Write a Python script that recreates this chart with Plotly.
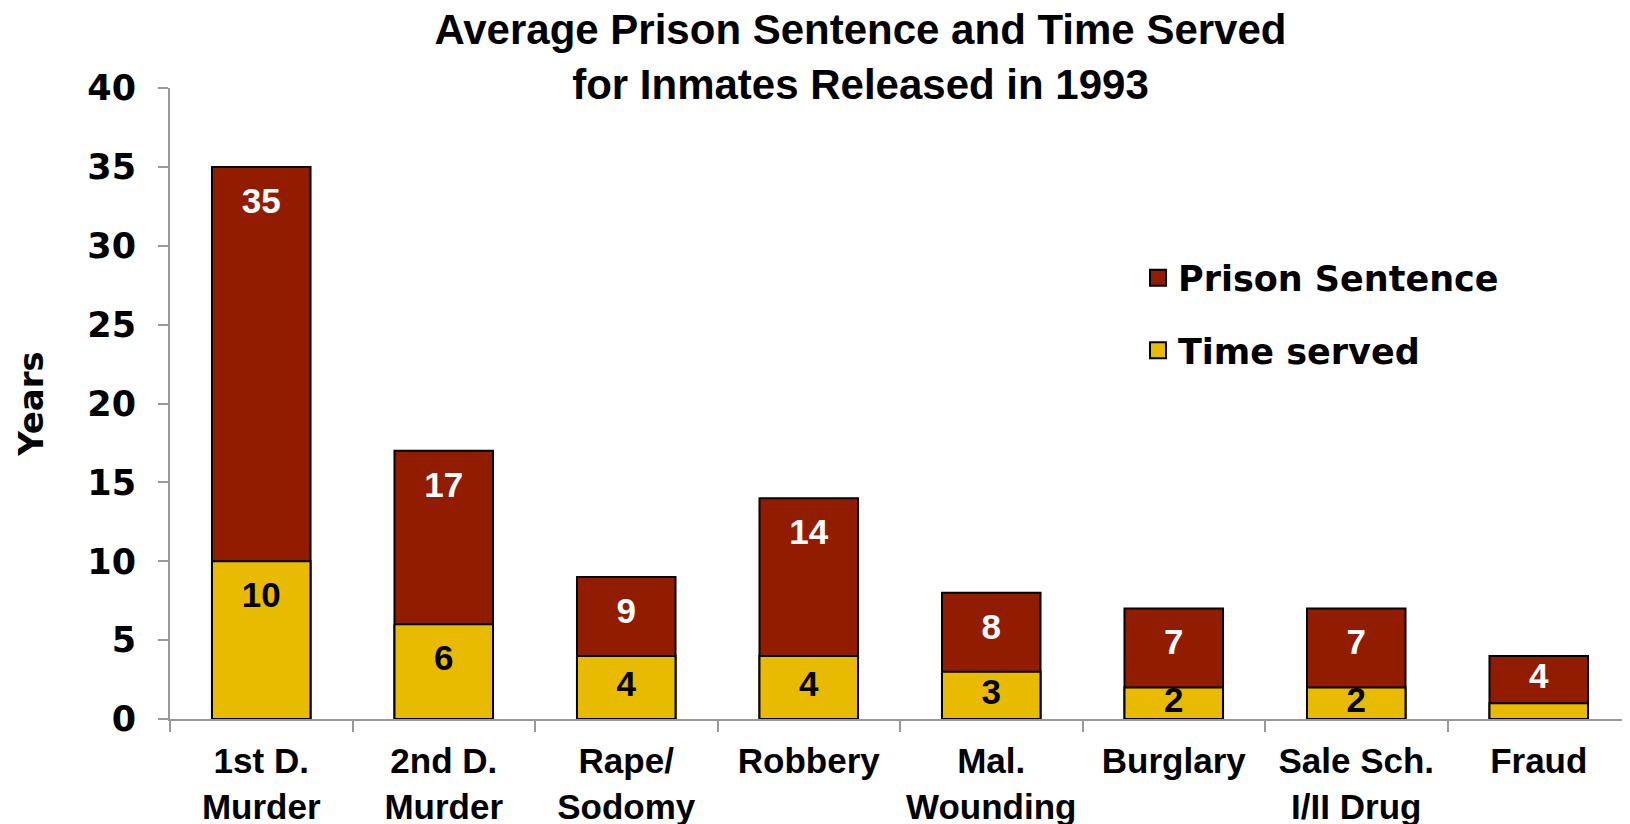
import plotly.graph_objects as go

categories = ["1st D.<br>Murder", "2nd D.<br>Murder", "Rape/<br>Sodomy", "Robbery",
              "Mal.<br>Wounding", "Burglary", "Sale Sch.<br>I/II Drug", "Fraud"]
prison_sentence = [35, 17, 9, 14, 8, 7, 7, 4]
time_served = [10, 6, 4, 4, 3, 2, 2, 1]
y_ticks = [0, 5, 10, 15, 20, 25, 30, 35, 40]

RED = "#921C00"
YELLOW = "#E8BA00"
FONT = "Liberation Sans, Arial, sans-serif"
WIDE = "DejaVu Sans, Verdana, sans-serif"

# label placement: near the top of each visible segment, centred when the segment is short
LABEL_DROP = 2.35  # in axis units


def label_y(top, base):
    return max(top - LABEL_DROP, (top + base) / 2)


sent_label_y = [label_y(s, t) for s, t in zip(prison_sentence, time_served)]
time_label_y = [label_y(t, 0) for t in time_served]
time_text = [str(v) if v >= 2 else "" for v in time_served]

fig = go.Figure()
fig.add_trace(go.Bar(
    x=categories, y=prison_sentence, name="Prison Sentence",
    marker=dict(color=RED, line=dict(color="black", width=2)),
    width=0.54, showlegend=False, hoverinfo="y",
))
fig.add_trace(go.Bar(
    x=categories, y=time_served, name="Time served",
    marker=dict(color=YELLOW, line=dict(color="black", width=2)),
    width=0.54, showlegend=False, hoverinfo="y",
))
fig.add_trace(go.Scatter(
    x=categories, y=sent_label_y, mode="text", text=[str(v) for v in prison_sentence],
    textposition="middle center", showlegend=False, hoverinfo="skip",
    textfont=dict(color="white", size=35, family=FONT, weight="bold"),
))
fig.add_trace(go.Scatter(
    x=categories, y=time_label_y, mode="text", text=time_text,
    textposition="middle center", showlegend=False, hoverinfo="skip",
    textfont=dict(color="black", size=35, family=FONT, weight="bold"),
))
# legend entries
fig.add_trace(go.Scatter(
    x=[None], y=[None], mode="markers", name="Prison Sentence", legendgroup="a",
    marker=dict(symbol="square", size=16, color=RED, line=dict(color="black", width=2)),
))
fig.add_trace(go.Scatter(
    x=[None], y=[None], mode="markers", name="Time served", legendgroup="b",
    marker=dict(symbol="square", size=16, color=YELLOW, line=dict(color="black", width=2)),
))

fig.update_layout(
    width=1630, height=824,
    barmode="overlay",
    plot_bgcolor="white", paper_bgcolor="white",
    margin=dict(l=162, r=8, t=80, b=113),
    title=dict(text="<b>Average Prison Sentence and Time Served<br>for Inmates Released in 1993</b>",
               x=0.523, xanchor="center", y=0.956, yanchor="top",
               font=dict(family=FONT, size=42, color="black")),
    showlegend=True,
    legend=dict(x=0.663, y=0.7456, xanchor="left", yanchor="top",
                font=dict(family=WIDE, size=35, color="black", weight="bold"),
                bgcolor="rgba(0,0,0,0)", tracegroupgap=24, traceorder="grouped",
                itemsizing="trace"),
    font=dict(family=FONT, color="black"),
)
fig.update_yaxes(
    range=[0, 40], tickvals=y_ticks, showgrid=False, zeroline=False, automargin=False,
    showline=True, linecolor="#999999", linewidth=2,
    ticks="outside", ticklen=10, tickcolor="#999999", tickwidth=2, ticklabelstandoff=15,
    tickfont=dict(family=WIDE, size=35, color="black", weight="bold"),
    title=dict(text="<b>Years</b>", font=dict(family=WIDE, size=34, color="black"), standoff=33),
)
fig.update_xaxes(
    showgrid=False, showline=True, linecolor="#999999", linewidth=2, automargin=False,
    ticks="outside", tickson="boundaries", ticklen=11, tickcolor="#999999", tickwidth=2,
    ticklabelstandoff=10,
    tickfont=dict(family=FONT, size=35, color="black", weight="bold"),
)

fig.write_html("out.html")
